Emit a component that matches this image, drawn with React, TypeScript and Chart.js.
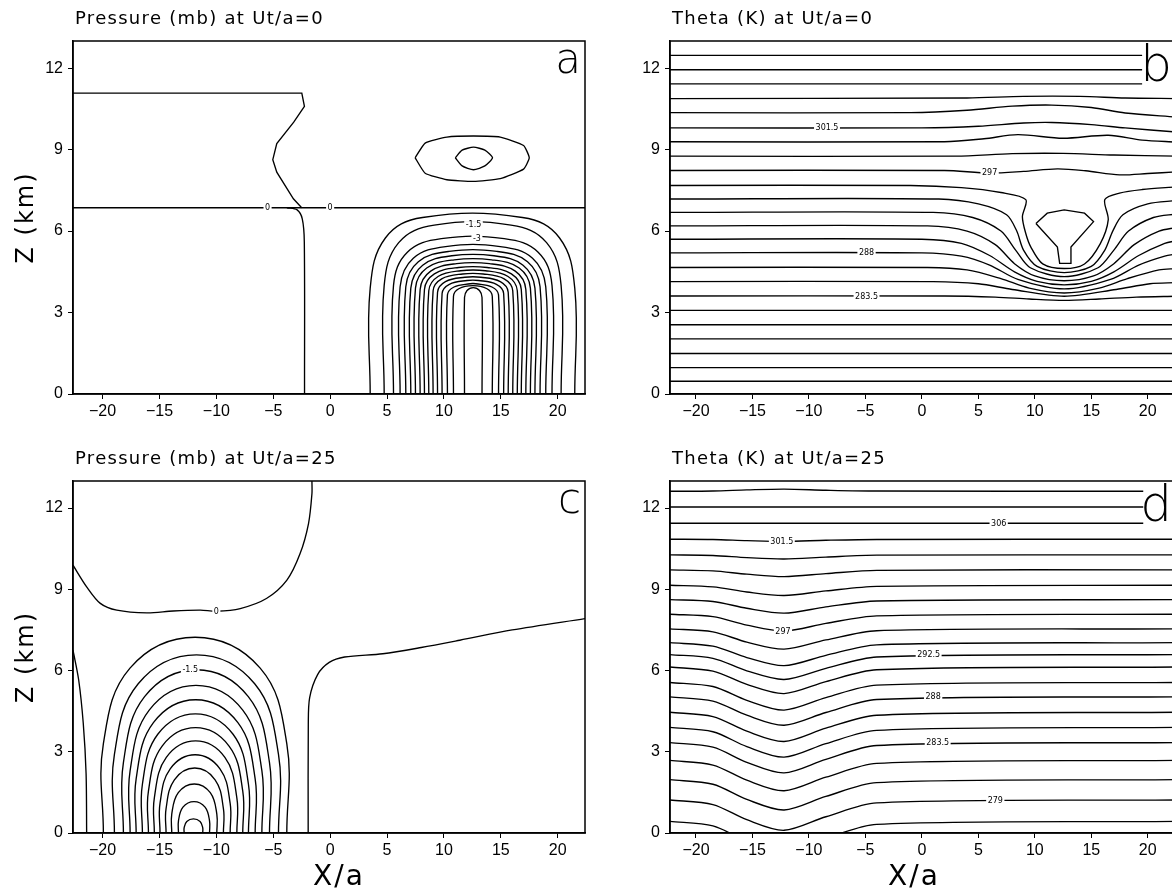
import React, { useEffect, useRef } from "react";
import { Chart, registerables } from "chart.js";
Chart.register(...registerables);

// ---------- axes ----------
const X_TICKS = [-20, -15, -10, -5, 0, 5, 10, 15, 20];
const Z_TICKS = [0, 3, 6, 9, 12];

// ---------- panel a : pressure (mb) at Ut/a=0 ----------
const PA_ZERO_UPPER = [-22.6, 11.08, -2.49, 11.08, -2.26, 10.59, -3.2, 10.01, -4.69, 9.22, -5.04, 8.63, -4.69, 8.17, -3.23, 7.19, -2.5, 6.86];
const PA_ZERO_LEVEL = [-22.6, 6.86, 22.4, 6.86];
const PA_ZERO_STEM = [-2.25, 0, -2.27, 5.6, -2.45, 6.45, -2.9, 6.78, -3.8, 6.86];
const PA_HIGH_OUT = [7.47, 8.7, 8.35, 9.24, 10.26, 9.46, 12.6, 9.5, 14.95, 9.46, 17.0, 9.15, 17.5, 8.7, 17.0, 8.28, 14.95, 7.93, 12.6, 7.83, 10.26, 7.89, 8.35, 8.13, 7.47, 8.7];
const PA_HIGH_IN = [11.0, 8.7, 11.6, 8.98, 12.6, 9.09, 13.6, 8.98, 14.27, 8.7, 13.6, 8.4, 12.6, 8.26, 11.6, 8.4, 11.0, 8.7];
// low-pressure arches: [left foot, right foot, shoulder z, top z, corner width]
const PA_LOW_ARCHES = [
  [3.52, 21.5, 3.9, 6.5, 4.6],
  [4.75, 20.3, 4.0, 6.22, 4.4],
  [5.57, 19.5, 4.0, 5.72, 4.2],
  [6.15, 18.95, 3.95, 5.43, 4.0],
  [6.65, 18.45, 3.95, 5.25, 3.8],
  [7.09, 18.0, 3.9, 5.09, 3.6],
  [7.5, 17.6, 3.9, 4.94, 3.4],
  [7.91, 17.2, 3.85, 4.8, 3.2],
  [8.29, 16.8, 3.85, 4.66, 3.0],
  [8.67, 16.45, 3.8, 4.54, 2.8],
  [9.05, 16.05, 3.8, 4.42, 2.6],
  [9.44, 15.65, 3.75, 4.3, 2.4],
  [9.84, 15.25, 3.7, 4.18, 2.2],
  [10.31, 14.8, 3.65, 4.06, 2.0],
  [10.84, 14.25, 3.6, 3.99, 1.6],
  [11.81, 13.35, 3.55, 3.92, 0.77],
];
const PA_LABELS: [number, number, string][] = [[-5.5, 6.86, "0"], [0, 6.86, "0"], [12.6, 6.24, "-1.5"], [12.9, 5.73, "-3"]];

// ---------- panel c : pressure (mb) at Ut/a=25 ----------
const PC_ZERO_LEFT = [-22.6, 6.75, -22.1, 5.65, -21.7, 4.06, -21.45, 2.2, -21.4, 0];
const PC_ZERO_UPPER = [-22.6, 9.89, -21.4, 9.09, -20.2, 8.48, -18.75, 8.23, -16.1, 8.13, -13.8, 8.2, -11.4, 8.23, -10.0, 8.19, -7.9, 8.29, -5.6, 8.66, -3.8, 9.34, -2.64, 10.32, -1.9, 11.43, -1.6, 12.53, -1.6, 13.0];
const PC_ZERO_RIGHT = [-1.93, 0, -1.92, 4.0, -1.8, 5.0, -1.1, 5.85, -0.08, 6.3, 1.27, 6.5, 4.63, 6.62, 8.0, 6.85, 11.4, 7.12, 16.0, 7.5, 22.4, 7.92];
const PC_LOW_ARCHES = [
  [-19.93, -3.81, 3.3, 7.23, 8.06],
  [-18.96, -4.54, 2.9, 6.58, 7.21],
  [-18.17, -5.33, 2.6, 6.03, 6.42],
  [-17.58, -6.0, 2.3, 5.45, 5.79],
  [-17.05, -6.59, 2.0, 4.92, 5.23],
  [-16.5, -7.18, 1.8, 4.4, 4.66],
  [-15.97, -7.68, 1.55, 3.89, 4.15],
  [-15.45, -8.2, 1.3, 3.4, 3.62],
  [-14.95, -8.79, 1.1, 2.89, 3.08],
  [-14.42, -9.38, 0.9, 2.4, 2.52],
  [-13.92, -9.96, 0.7, 1.81, 1.98],
  [-13.33, -10.6, 0.45, 1.16, 1.36],
  [-12.83, -11.2, 0.2, 0.52, 0.8],
];
const PC_LABELS: [number, number, string][] = [[-10.0, 8.19, "0"], [-12.3, 6.03, "-1.5"]];

// ---------- panel b : theta (K) at Ut/a=0 ----------
const PB_CUP = [10.1, 6.28, 11.1, 6.66, 12.6, 6.78, 14.4, 6.66, 15.2, 6.35, 13.2, 5.41, 13.2, 4.81, 12.2, 4.81, 12.0, 5.41, 10.1, 6.28];
const PB_ISENTROPES = [
  [-22.3, 0.47, 22.5, 0.47],
  [-22.3, 0.97, 22.5, 0.97],
  [-22.3, 1.49, 22.5, 1.49],
  [-22.3, 2.03, 22.5, 2.03],
  [-22.3, 2.55, 22.5, 2.55],
  [-22.3, 3.08, 22.5, 3.08],
  [-22.3, 3.61, 2, 3.61, 6.5, 3.57, 9.5, 3.5, 12.6, 3.45, 15.7, 3.5, 19, 3.57, 22.5, 3.6],
  [-22.3, 4.14, 1, 4.14, 5, 4.06, 8, 3.85, 12.6, 3.6, 17.2, 3.85, 20.2, 4.06, 22.5, 4.1],
  [-22.3, 4.66, 0.5, 4.66, 4, 4.57, 7, 4.25, 9.5, 3.9, 12.6, 3.72, 15.7, 3.9, 18.2, 4.25, 21, 4.57, 22.5, 4.62],
  [-22.3, 5.2, 0, 5.2, 3.5, 5.08, 6, 4.75, 8.5, 4.22, 12.6, 3.87, 16.7, 4.22, 19.2, 4.75, 21.5, 5.08, 22.5, 5.15],
  [-22.3, 5.7, 0, 5.7, 3.5, 5.55, 6, 5.1, 8.2, 4.5, 10.2, 4.15, 12.6, 4.02, 15, 4.15, 17, 4.5, 19.2, 5.1, 21.5, 5.55, 22.5, 5.64],
  [-22.3, 6.19, 0.5, 6.19, 4, 6.0, 6.5, 5.5, 8.2, 4.8, 10, 4.35, 12.6, 4.17, 15.2, 4.35, 17, 4.8, 18.8, 5.5, 21, 6.0, 22.5, 6.13],
  [-22.3, 6.69, 1, 6.69, 4.5, 6.5, 7, 6.0, 8.3, 5.3, 9.6, 4.65, 12.6, 4.32, 15.6, 4.65, 17, 5.3, 18.3, 6.0, 20.5, 6.5, 22.5, 6.63],
  [-22.3, 7.18, 1.5, 7.18, 5, 7.0, 7.5, 6.6, 8.4, 6.0, 9.0, 5.3, 10.2, 4.7, 12.6, 4.47, 15, 4.7, 16.2, 5.3, 16.9, 6.0, 17.8, 6.6, 20, 7.0, 22.5, 7.12],
  [-22.3, 7.68, -1, 7.68, 3.5, 7.6, 7, 7.42, 9.2, 7.16, 8.9, 6.53, 9.2, 5.91, 9.65, 5.41, 10.7, 4.79, 12.6, 4.62, 14.4, 4.79, 15.8, 5.54, 16.5, 6.41, 16.2, 7.16, 17.5, 7.4, 19.5, 7.53, 22.5, 7.63],
  [-22.3, 8.23, 2, 8.23, 6, 8.14, 9, 8.2, 12, 8.29, 14.5, 8.22, 17.5, 8.07, 20, 8.12, 22.5, 8.18],
  [-22.3, 8.76, 3, 8.76, 8, 8.85, 12.5, 8.86, 17, 8.8, 22.5, 8.76],
  [-22.3, 9.29, 2, 9.29, 5.5, 9.4, 8.5, 9.55, 12.5, 9.42, 16.5, 9.53, 19.5, 9.35, 22.5, 9.28],
  [-22.3, 9.8, 0, 9.8, 5, 9.86, 9, 9.98, 11.5, 10.0, 15, 9.92, 18, 9.8, 22.5, 9.65],
  [-22.3, 10.36, -1, 10.36, 4, 10.45, 8, 10.6, 11.5, 10.64, 15, 10.55, 18, 10.35, 22.5, 10.2],
  [-22.3, 10.88, 4, 10.9, 9, 10.96, 14, 10.96, 18, 10.9, 22.5, 10.88],
  [-22.3, 11.42, 19.5, 11.42],
  [-22.3, 11.94, 19.5, 11.94],
  [-22.3, 12.47, 19.5, 12.47],
];
const PB_LABELS: [number, number, string][] = [[-8.4, 9.8, "301.5"], [6.0, 8.15, "297"], [-4.9, 5.2, "288"], [-4.9, 3.61, "283.5"]];

// ---------- panel d : theta (K) at Ut/a=25 ----------
const PD_ISENTROPES = [
  [-22.3, 12.62, -18.5, 12.63, -15.5, 12.67, -12.2, 12.7, -8.5, 12.66, -4, 12.63, 19.6, 12.62],
  [-22.3, 12.04, 19.6, 12.04],
  [-22.3, 11.44, 19.6, 11.44],
  [-22.3, 10.85, -18.5, 10.84, -15.5, 10.8, -12.2, 10.77, -8.5, 10.81, -4, 10.84, 22.5, 10.85],
  [-22.3, 10.27, -18.5, 10.25, -15.5, 10.17, -12.2, 10.12, -8.5, 10.19, -4, 10.26, 22.5, 10.27],
  [-22.3, 9.72, -18.5, 9.68, -15.5, 9.56, -12.2, 9.47, -8.5, 9.58, -4, 9.7, 22.5, 9.72],
  [-22.3, 9.15, -18.5, 9.09, -15.5, 8.9, -12.2, 8.77, -8.5, 8.94, -4, 9.11, 22.5, 9.15],
  [-22.3, 8.62, -18.5, 8.55, -15.5, 8.3, -12.2, 8.12, -8.5, 8.35, -4, 8.57, 22.5, 8.62],
  [-22.3, 8.08, -18.5, 7.99, -15.5, 7.68, -12.2, 7.46, -8.5, 7.74, -4, 8.02, 22.5, 8.08],
  [-22.3, 7.54, -18.5, 7.43, -15.5, 7.05, -12.2, 6.79, -8.5, 7.13, -4, 7.47, 22.5, 7.54],
  [-22.3, 7.03, -18.5, 6.9, -15.5, 6.48, -12.2, 6.18, -8.5, 6.56, -4, 6.95, 22.5, 7.03],
  [-22.3, 6.59, -18.5, 6.45, -15.5, 5.99, -12.2, 5.67, -8.5, 6.08, -4, 6.5, 22.5, 6.59],
  [-22.3, 6.13, -18.5, 5.98, -15.5, 5.49, -12.2, 5.15, -8.5, 5.59, -4, 6.03, 22.5, 6.13],
  [-22.3, 5.56, -18.5, 5.41, -15.5, 4.9, -12.2, 4.54, -8.5, 5.0, -4, 5.46, 22.5, 5.56],
  [-22.3, 5.03, -18.5, 4.87, -15.5, 4.35, -12.2, 3.98, -8.5, 4.45, -4, 4.93, 22.5, 5.03],
  [-22.3, 4.46, -18.5, 4.3, -15.5, 3.76, -12.2, 3.38, -8.5, 3.87, -4, 4.35, 22.5, 4.46],
  [-22.3, 3.9, -18.5, 3.74, -15.5, 3.19, -12.2, 2.8, -8.5, 3.3, -4, 3.79, 22.5, 3.9],
  [-22.3, 3.34, -18.5, 3.17, -15.5, 2.61, -12.2, 2.22, -8.5, 2.72, -4, 3.23, 22.5, 3.34],
  [-22.3, 2.68, -18.5, 2.51, -15.5, 1.95, -12.2, 1.56, -8.5, 2.06, -4, 2.57, 22.5, 2.68],
  [-22.3, 1.97, -18.5, 1.8, -15.5, 1.24, -12.2, 0.85, -8.5, 1.35, -4, 1.86, 22.5, 1.97],
  [-22.3, 1.22, -18.5, 1.05, -15.5, 0.49, -12.2, 0.1, -8.5, 0.6, -4, 1.11, 22.5, 1.22],
  [-22.3, 0.43, -18.5, 0.26, -15.5, -0.3, -12.2, -0.69, -8.5, -0.19, -4, 0.32, 22.5, 0.43],
];
const PD_LABELS: [number, number, string][] = [[6.8, 11.44, "306"], [-12.4, 10.77, "301.5"], [-12.3, 7.46, "297"], [0.6, 6.59, "292.5"], [1.0, 5.03, "288"], [1.4, 3.34, "283.5"], [6.5, 1.22, "279"]];

// ---------- helpers ----------
type Line = { pts: number[]; tension: number };

function flatToPoints(flat: number[]) {
  const out: { x: number; y: number }[] = [];
  for (let i = 0; i + 1 < flat.length; i += 2) out.push({ x: flat[i], y: flat[i + 1] });
  return out;
}

// rounded arch outline from its read foot / shoulder / top values
function archOutline(row: number[]) {
  const [xl, xr, zs, zt, r] = row;
  const dx = 0.29 * r;
  const zc = zs + 0.71 * (zt - zs);
  const pts = [xl, 0, xl, zs, xl + dx, zc];
  if (xr - xl - 2 * r > 0.3) pts.push(xl + r, zt, xr - r, zt);
  else pts.push((xl + xr) / 2, zt);
  pts.push(xr - dx, zc, xr, zs, xr, 0);
  return pts;
}

function fmtTick(v: number) {
  return v < 0 ? "\u2212" + Math.abs(v) : String(v);
}

const TICK_FONT = '"Liberation Sans", "DejaVu Sans", sans-serif';
const TEXT_FONT = '"DejaVu Sans", "Liberation Sans", sans-serif';

type PanelSpec = {
  left: number; top: number; width: number; height: number;
  padRight: number; yWidth: number; xHeight: number;
  xMin: number; xMax: number;
  title: string; letter: string; letterSize: number; letterBase: number;
  lines: Line[]; labels: [number, number, string][];
  yTitle: boolean; xTitleX: number | null;
};

const decorPlugin = {
  id: "decor",
  afterDatasetsDraw(chart: any, _args: any, opts: any) {
    const { ctx, chartArea: a, scales } = chart;
    const xs = scales.x, ys = scales.y;
    ctx.save();
    ctx.strokeStyle = "#000";
    ctx.lineWidth = 1.5;
    ctx.strokeRect(a.left, a.top, a.right - a.left, a.bottom - a.top);
    ctx.font = `8px ${TEXT_FONT}`;
    ctx.textAlign = "center";
    ctx.textBaseline = "middle";
    for (const [lx, lz, t] of opts.labels as [number, number, string][]) {
      const px = xs.getPixelForValue(lx);
      const py = ys.getPixelForValue(lz);
      const w = ctx.measureText(t).width;
      ctx.fillStyle = "#fff";
      ctx.fillRect(px - w / 2 - 1.5, py - 3.5, w + 3, 7);
      ctx.fillStyle = "#000";
      ctx.fillText(t, px, py + 0.5);
    }
    ctx.restore();
  },
  afterDraw(chart: any, _args: any, opts: any) {
    const { ctx, chartArea: a } = chart;
    ctx.save();
    ctx.fillStyle = "#000";
    ctx.font = `18px ${TEXT_FONT}`;
    try { (ctx as any).letterSpacing = "1.3px"; } catch (e) {}
    ctx.textAlign = "left";
    ctx.textBaseline = "alphabetic";
    ctx.fillText(opts.title, a.left + 2, 24);
    ctx.font = `24px ${TEXT_FONT}`;
    try { (ctx as any).letterSpacing = "2px"; } catch (e) {}
    if (opts.yTitle) {
      ctx.save();
      ctx.translate(33, (a.top + a.bottom) / 2);
      ctx.rotate(-Math.PI / 2);
      ctx.textAlign = "center";
      ctx.fillText("Z (km)", 0, 0);
      ctx.restore();
    }
    if (opts.xTitleX !== null) {
      ctx.font = `28px ${TEXT_FONT}`;
      ctx.textAlign = "center";
      ctx.fillText("X/a", opts.xTitleX, chart.height - 8);
    }
    try { (ctx as any).letterSpacing = "0px"; } catch (e) {}
    ctx.font = `200 ${opts.letterSize}px ${TEXT_FONT}`;
    ctx.textAlign = "right";
    ctx.fillText(opts.letter, a.right - 4, a.top + opts.letterBase);
    ctx.restore();
  },
};

function Panel({ spec }: { spec: PanelSpec }) {
  const ref = useRef<HTMLCanvasElement>(null);
  useEffect(() => {
    const canvas = ref.current!;
    const axisCommon = {
      type: "linear" as const,
      grid: { display: true, drawOnChartArea: false, drawTicks: true, tickLength: 5, color: "#000", lineWidth: 1 },
      border: { display: true, color: "#000", width: 1.5 },
    };
    const chart = new Chart(canvas, {
      type: "scatter",
      data: {
        datasets: spec.lines.map((l) => ({
          data: flatToPoints(l.pts),
          showLine: true,
          borderColor: "#000",
          borderWidth: 1.35,
          pointRadius: 0,
          pointHoverRadius: 0,
          tension: l.tension,
          fill: false,
        })),
      },
      options: {
        responsive: false,
        animation: false,
        devicePixelRatio: 1,
        events: [],
        layout: { padding: { top: 41, right: spec.padRight, left: 0, bottom: 0 } },
        plugins: {
          legend: { display: false },
          tooltip: { enabled: false },
          decor: {
            labels: spec.labels, title: spec.title, letter: spec.letter,
            letterSize: spec.letterSize, letterBase: spec.letterBase,
            yTitle: spec.yTitle, xTitleX: spec.xTitleX,
          },
        } as any,
        scales: {
          x: {
            ...axisCommon,
            min: spec.xMin,
            max: spec.xMax,
            afterBuildTicks: (s: any) => { s.ticks = X_TICKS.map((v) => ({ value: v })); },
            afterFit: (s: any) => { s.height = spec.xHeight; },
            ticks: { callback: (v: any) => fmtTick(Number(v)), color: "#000", font: { family: TICK_FONT, size: 16 }, padding: 3, maxRotation: 0, autoSkip: false },
          },
          y: {
            ...axisCommon,
            min: 0,
            max: 13,
            afterBuildTicks: (s: any) => { s.ticks = Z_TICKS.map((v) => ({ value: v })); },
            afterFit: (s: any) => { s.width = spec.yWidth; },
            ticks: { callback: (v: any) => fmtTick(Number(v)), color: "#000", font: { family: TICK_FONT, size: 16 }, padding: 5, autoSkip: false },
          },
        },
      },
      plugins: [decorPlugin as any],
    });
    return () => chart.destroy();
  }, [spec]);
  return (
    <canvas
      ref={ref}
      width={spec.width}
      height={spec.height}
      style={{ position: "absolute", left: spec.left, top: spec.top, width: spec.width, height: spec.height }}
    />
  );
}

const lin = (pts: number[], tension = 0.3): Line => ({ pts, tension });

const PANELS: PanelSpec[] = [
  {
    left: 0, top: 0, width: 610, height: 440, padRight: 25, yWidth: 73, xHeight: 46,
    xMin: -22.6, xMax: 22.4, title: "Pressure (mb) at Ut/a=0", letter: "a", letterSize: 42, letterBase: 32,
    lines: [
      lin(PA_ZERO_UPPER, 0), lin(PA_ZERO_LEVEL, 0), lin(PA_ZERO_STEM, 0.3),
      lin(PA_HIGH_OUT, 0.15), lin(PA_HIGH_IN, 0.2),
      ...PA_LOW_ARCHES.map((r) => lin(archOutline(r), 0.4)),
    ],
    labels: PA_LABELS, yTitle: true, xTitleX: null,
  },
  {
    left: 600, top: 0, width: 600, height: 440, padRight: 24, yWidth: 70, xHeight: 46,
    xMin: -22.3, xMax: 22.5, title: "Theta (K) at Ut/a=0", letter: "b", letterSize: 50, letterBase: 40,
    lines: [lin(PB_CUP, 0), ...PB_ISENTROPES.map((p) => lin(p, 0.3))],
    labels: PB_LABELS, yTitle: false, xTitleX: null,
  },
  {
    left: 0, top: 440, width: 610, height: 453, padRight: 25, yWidth: 73, xHeight: 60,
    xMin: -22.6, xMax: 22.4, title: "Pressure (mb) at Ut/a=25", letter: "c", letterSize: 42, letterBase: 32,
    lines: [
      lin(PC_ZERO_LEFT, 0.3), lin(PC_ZERO_UPPER, 0.3), lin(PC_ZERO_RIGHT, 0.3),
      ...PC_LOW_ARCHES.map((r) => lin(archOutline(r), 0.4)),
    ],
    labels: PC_LABELS, yTitle: true, xTitleX: 339,
  },
  {
    left: 600, top: 440, width: 600, height: 453, padRight: 24, yWidth: 70, xHeight: 60,
    xMin: -22.3, xMax: 22.5, title: "Theta (K) at Ut/a=25", letter: "d", letterSize: 50, letterBase: 40,
    lines: PD_ISENTROPES.map((p) => lin(p, 0.3)),
    labels: PD_LABELS, yTitle: false, xTitleX: 314,
  },
];

export default function App() {
  return (
    <div style={{ position: "fixed", left: 0, top: 0, width: 1172, height: 893, overflow: "hidden", background: "#fff" }}>
      {PANELS.map((p, i) => (
        <Panel key={i} spec={p} />
      ))}
    </div>
  );
}
